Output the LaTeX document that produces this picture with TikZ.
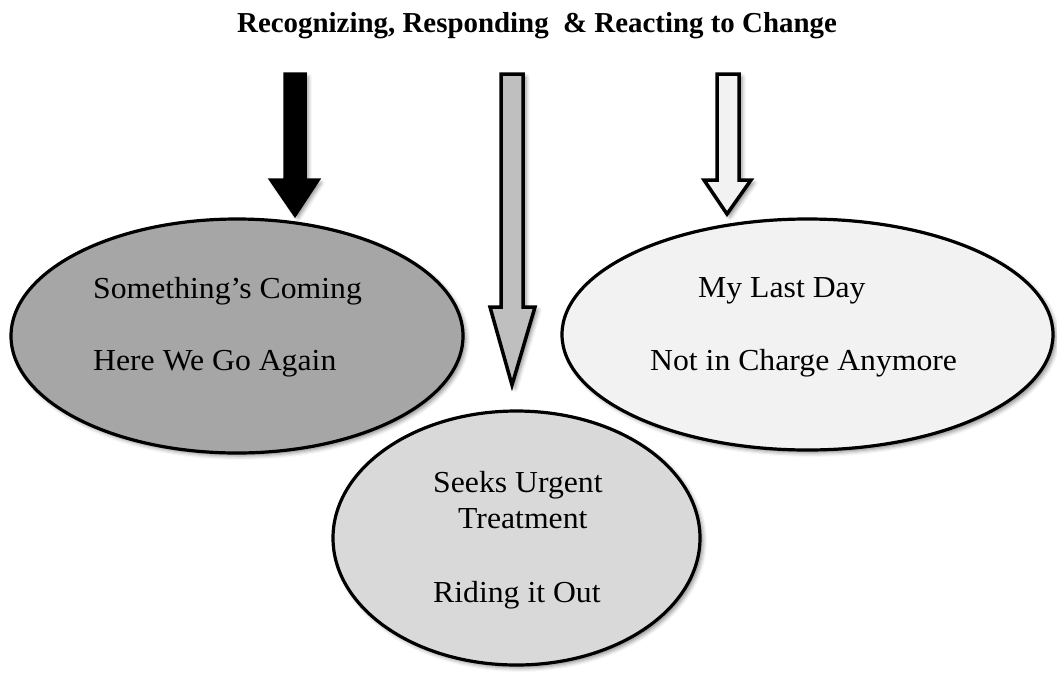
\documentclass[tikz,border=0pt]{standalone}
\usepackage{fontspec}
\setmainfont{Liberation Serif}
\newfontfamily\bodyf[FakeStretch=1.04]{Liberation Serif}
\newfontfamily\titlef[FakeStretch=1.0]{Liberation Serif}
\usetikzlibrary{shadows.blur}
\definecolor{gdark}{HTML}{A6A6A6}
\definecolor{gmid}{HTML}{D9D9D9}
\definecolor{glight}{HTML}{F2F2F2}
\definecolor{garrow}{HTML}{BFBFBF}
\tikzset{
  shd/.style={blur shadow={shadow xshift=3pt, shadow yshift=-3pt, shadow blur radius=4pt, shadow opacity=45}},
  bubble/.style={draw=black, line width=3.2pt, shd},
  blockarrow/.style={draw=black, line width=3.5pt, line join=miter, shd},
  lbl/.style={anchor=base west, inner sep=0pt, font=\bodyf\fontsize{30.5}{34}\selectfont},
}
\begin{document}
\begin{tikzpicture}[x=1pt, y=-1pt]
\useasboundingbox (0,0) rectangle (1057,673);
\node[anchor=base west, inner sep=0pt, font=\titlef\bfseries\fontsize{28.9}{32}\selectfont] (title) at (237,32) {Recognizing, Responding\ \ \& Reacting to Change};

% block arrows
\draw[blockarrow, fill=black] (285,74) -- (305,74) -- (305,180) -- (318,180) -- (295,215) -- (271,180) -- (285,180) -- cycle;
\draw[blockarrow, fill=garrow] (501,74) -- (523,74) -- (523,307) -- (535,307) -- (512,385) -- (490,307) -- (501,307) -- cycle;
\draw[blockarrow, fill=glight] (717,74) -- (739,74) -- (739,180) -- (751,180) -- (727,214) -- (704,180) -- (717,180) -- cycle;

% ellipses
\path[bubble, fill=gdark] (237,336) ellipse [x radius=226, y radius=117];
\coordinate (L) at (237,336);
\path[bubble, fill=glight] (807.5,334.5) ellipse [x radius=245.5, y radius=115.5];
\coordinate (R) at (807.5,334.5);
\path[bubble, fill=gmid] (516.5,538) ellipse [x radius=183.5, y radius=127];
\coordinate (M) at (516.5,538);

% texts
\node[lbl] (t1) at (93,298) {Something’s Coming};
\node[lbl] (t2) at (93,370) {Here We Go Again};
\node[lbl] (t3) at (698,297) {My Last Day};
\node[lbl] (t4) at (650,370) {Not in Charge Anymore};
\node[lbl] (t5) at (433,492) {Seeks Urgent};
\node[lbl] (t6) at (458,528) {Treatment};
\node[lbl] (t7) at (433,602) {Riding it Out};
\end{tikzpicture}
\end{document}
